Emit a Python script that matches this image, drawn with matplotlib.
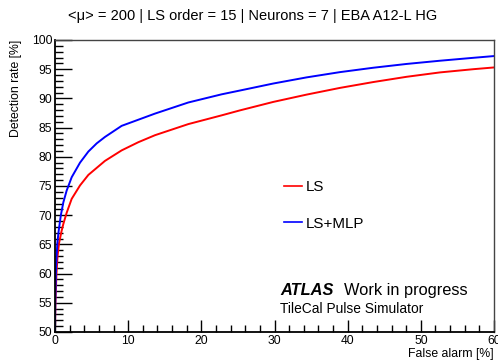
import matplotlib
matplotlib.use("Agg")
import matplotlib.pyplot as plt
from matplotlib.ticker import MultipleLocator

plt.rcParams['font.family'] = ['Liberation Sans', 'DejaVu Sans']

# ROC curves: false alarm [%] vs detection rate [%]
ls_fa = [0, 0.06, 0.2, 0.35, 0.55, 0.9, 1.14, 1.59, 2.28, 3.42, 4.56, 6.83, 9.11,
         11.39, 13.67, 18.22, 22.78, 25.28, 29.84, 34.39, 38.95, 43.5, 48.06,
         52.61, 57.17, 60]
ls_dr = [50, 55, 60, 63.0, 65.2, 67.3, 68.5, 70.4, 72.8, 75.1, 76.9, 79.3, 81.1,
         82.5, 83.7, 85.6, 87.1, 87.95, 89.4, 90.65, 91.8, 92.8, 93.7,
         94.45, 95.0, 95.3]

mlp_fa = [0, 0.04, 0.12, 0.2, 0.32, 0.5, 0.8, 1.14, 1.59, 2.28, 3.42, 4.56, 5.7,
          6.83, 9.11, 13.67, 18.22, 22.78, 25.28, 29.84, 34.39, 38.95, 43.5, 48.06,
          52.61, 57.17, 60]
mlp_dr = [50, 55, 60, 62.5, 65.2, 67.3, 70.0, 72.2, 74.2, 76.5, 79.0, 80.9, 82.3,
          83.4, 85.3, 87.4, 89.3, 90.7, 91.35, 92.55, 93.6, 94.5, 95.25, 95.9,
          96.45, 96.95, 97.25]

series_labels = ["LS", "LS+MLP"]
title_text = "<\u03bc> = 200 | LS order = 15 | Neurons = 7 | EBA A12-L HG"

W, H = 498, 360
fig = plt.figure(figsize=(W / 100, H / 100), dpi=100)
ax = fig.add_axes([55 / W, 1 - 332 / H, 439 / W, 292 / H])

ax.plot(ls_fa, ls_dr, color="#ff0000", lw=1.4, label=series_labels[0])
ax.plot(mlp_fa, mlp_dr, color="#0000ff", lw=1.4, label=series_labels[1])

ax.set_xlim(0, 60)
ax.set_ylim(50, 100)
ax.xaxis.set_major_locator(MultipleLocator(10))
ax.xaxis.set_minor_locator(MultipleLocator(2))
ax.yaxis.set_major_locator(MultipleLocator(5))
ax.yaxis.set_minor_locator(MultipleLocator(1))
ax.tick_params(which="both", direction="in", top=False, right=False,
               labelsize=8.7, colors="black", width=1.0)
ax.tick_params(axis="y", which="major", length=12, pad=2)
ax.tick_params(axis="y", which="minor", length=6)
ax.tick_params(axis="x", which="major", length=9, pad=2)
ax.tick_params(axis="x", which="minor", length=5)

for side in ("left", "bottom"):
    ax.spines[side].set_linewidth(1.3)
    ax.spines[side].set_color("black")
for side in ("top", "right"):
    ax.spines[side].set_linewidth(1.0)
    ax.spines[side].set_color("#444444")

ax.set_xlabel("False alarm [%]", fontsize=8.8, loc="right", labelpad=1.0)
ax.set_ylabel("Detection rate [%]", fontsize=8.8, loc="top", labelpad=7)

fig.text(252.5 / W, 1 - 20 / H, title_text, fontsize=10.5, ha="center", va="baseline")

leg = ax.legend(loc="upper left", bbox_to_anchor=((284 - 55) / 439, (332 - 180) / 292),
                frameon=False, fontsize=10.9, handlelength=1.2, handletextpad=0.22,
                labelspacing=1.5, borderaxespad=0, borderpad=0)
for ln in leg.get_lines():
    ln.set_linewidth(1.2)

fig.text(280 / W, 1 - 295 / H, "ATLAS", fontsize=11.8, fontweight="bold",
         fontstyle="italic", va="baseline")
fig.text(344 / W, 1 - 295 / H, "Work in progress", fontsize=11.8, va="baseline")
fig.text(280 / W, 1 - 313 / H, "TileCal Pulse Simulator", fontsize=9.9, va="baseline")

fig.savefig("out.png", dpi=100)
